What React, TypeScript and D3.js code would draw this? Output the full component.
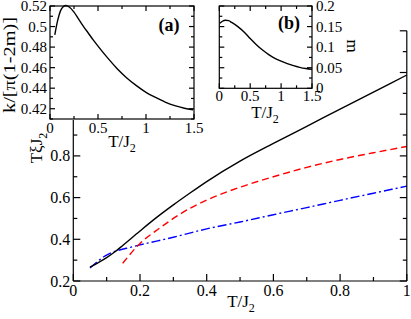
import React from 'react';
import * as d3 from 'd3';

// Main plot data (T/J2 vs TξJ2)
const blackT = [0.05, 0.075, 0.1, 0.125, 0.15, 0.2, 0.25, 0.3, 0.35, 0.4, 0.5, 0.6, 0.7, 0.8, 0.9, 1.0];
const blackV = [0.266, 0.288, 0.312, 0.34, 0.373, 0.44, 0.505, 0.565, 0.622, 0.677, 0.775, 0.86, 0.942, 1.024, 1.106, 1.188];
const redT = [0.148, 0.2, 0.26, 0.3, 0.35, 0.4, 0.5, 0.6, 0.7, 0.8, 0.9, 1.0];
const redV = [0.285, 0.38, 0.455, 0.5, 0.549, 0.588, 0.65, 0.70, 0.745, 0.783, 0.815, 0.845];
const blueT = [0.05, 0.07, 0.09, 0.11, 0.13, 0.16, 0.2, 0.3, 0.4, 0.5, 0.6, 0.7, 0.8, 0.9, 1.0];
const blueV = [0.262, 0.29, 0.315, 0.333, 0.345, 0.357, 0.373, 0.41, 0.45, 0.483, 0.518, 0.552, 0.587, 0.621, 0.655];

// Inset (a): k/[π(1-2m)] vs T/J2
const aT = [0.05, 0.08, 0.11, 0.14, 0.165, 0.2, 0.25, 0.3, 0.35, 0.4, 0.45, 0.5, 0.6, 0.7, 0.8, 0.9, 1.0, 1.1, 1.2, 1.3, 1.4, 1.49];
const aV = [0.492, 0.506, 0.5155, 0.5195, 0.5205, 0.519, 0.514, 0.507, 0.5, 0.4935, 0.487, 0.481, 0.4695, 0.459, 0.45, 0.4425, 0.436, 0.431, 0.4265, 0.423, 0.4205, 0.419];

// Inset (b): m vs T/J2
const bT = [0.01, 0.05, 0.1, 0.15, 0.2, 0.3, 0.4, 0.5, 0.6, 0.7, 0.8, 0.9, 1.0, 1.1, 1.2, 1.3, 1.4, 1.5];
const bV = [0.158, 0.163, 0.1655, 0.1645, 0.16, 0.15, 0.137, 0.121, 0.106, 0.093, 0.082, 0.073, 0.066, 0.06, 0.055, 0.051, 0.048, 0.046];

const mainXTicks = [0, 0.2, 0.4, 0.6, 0.8, 1];
const mainYTicks = [0.2, 0.4, 0.6, 0.8, 1, 1.2, 1.4];
const aXTicks = [0, 0.5, 1, 1.5];
const aYTicks = [0.42, 0.44, 0.46, 0.48, 0.5, 0.52];
const bXTicks = [0, 0.5, 1, 1.5];
const bYTicks = [0, 0.05, 0.1, 0.15, 0.2];

const FONT = '"Liberation Serif", "Times New Roman", serif';

const fmt = (v: number) => String(+v.toFixed(3));
const range = (a: number, b: number, s: number) => {
  const out: number[] = [];
  const n = Math.round((b - a) / s);
  for (let i = 0; i <= n; i++) out.push(+(a + i * s).toFixed(6));
  return out;
};
const zip = (t: number[], v: number[]) => t.map((d, i) => [d, v[i]] as [number, number]);

export default function App() {
  const W = 411, H = 319;
  // main
  const x = d3.scaleLinear().domain([0, 1]).range([73.3, 406.8]);
  const y = d3.scaleLinear().domain([0.2, 1.4]).range([281, 30.8]);
  const line = d3.line<[number, number]>().x(d => x(d[0])).y(d => y(d[1])).curve(d3.curveMonotoneX);

  // inset a
  const xa = d3.scaleLinear().domain([0, 1.5]).range([50, 194]);
  const ya = d3.scaleLinear().domain([0.41, 0.52]).range([119, 6]);
  const lineA = d3.line<[number, number]>().x(d => xa(d[0])).y(d => ya(d[1])).curve(d3.curveMonotoneX);

  // inset b
  const xb = d3.scaleLinear().domain([0, 1.5]).range([219.3, 312]);
  const yb = d3.scaleLinear().domain([0, 0.2]).range([88.3, 6]);
  const lineB = d3.line<[number, number]>().x(d => xb(d[0])).y(d => yb(d[1])).curve(d3.curveMonotoneX);

  const sw = 1.2;
  const [mx0, mx1] = x.range();
  const [my0, my1] = y.range();

  const mainXMinor = range(0, 1, 0.1);
  const mainYMinor = range(0.2, 1.4, 0.1);

  const insetTicks = (
    xs: d3.ScaleLinear<number, number>, ys: d3.ScaleLinear<number, number>,
    xMaj: number[], xMin: number[], yMaj: number[], yMin: number[]
  ) => {
    const [l, r] = xs.range();
    const [b, t] = ys.range();
    const els: JSX.Element[] = [];
    const maj = 5, min = 3;
    xMin.forEach((v, i) => {
      const len = xMaj.some(m => Math.abs(m - v) < 1e-6) ? maj : min;
      els.push(<line key={'xb' + i} x1={xs(v)} x2={xs(v)} y1={b} y2={b - len} />);
      els.push(<line key={'xt' + i} x1={xs(v)} x2={xs(v)} y1={t} y2={t + len} />);
    });
    yMin.forEach((v, i) => {
      const len = yMaj.some(m => Math.abs(m - v) < 1e-6) ? maj : min;
      els.push(<line key={'yl' + i} x1={l} x2={l + len} y1={ys(v)} y2={ys(v)} />);
      els.push(<line key={'yr' + i} x1={r} x2={r - len} y1={ys(v)} y2={ys(v)} />);
    });
    return els;
  };

  return (
    <svg width={W} height={H} style={{ position: 'absolute', left: 0, top: 0, background: '#fff' }} fontFamily={FONT}>
      <rect x={0} y={0} width={W} height={H} fill="#fff" />
      {/* main plot */}
      <g>
        <path d={line(zip(blueT, blueV)) || ''} fill="none" stroke="#0000ff" strokeWidth={1.4} strokeDasharray="9,3,2,3" />
        <path d={line(zip(redT, redV)) || ''} fill="none" stroke="#ff0000" strokeWidth={1.4} strokeDasharray="7,4" />
        <path d={line(zip(blackT, blackV)) || ''} fill="none" stroke="#000" strokeWidth={1.4} />
        <g stroke="#000" strokeWidth={sw}>
          <line x1={mx0} x2={mx1} y1={my0} y2={my0} />
          <line x1={mx0} x2={mx0} y1={my0} y2={my1} />
          <line x1={mx1} x2={mx1} y1={my0} y2={my1} />
          {mainXMinor.map((v, i) => {
            const len = mainXTicks.some(m => Math.abs(m - v) < 1e-6) ? 7 : 4;
            return <line key={'mx' + i} x1={x(v)} x2={x(v)} y1={my0} y2={my0 - len} />;
          })}
          {mainYMinor.map((v, i) => {
            const len = mainYTicks.some(m => Math.abs(m - v) < 1e-6) ? 7 : 4;
            return (
              <g key={'my' + i}>
                <line x1={mx0} x2={mx0 + len} y1={y(v)} y2={y(v)} />
                <line x1={mx1} x2={mx1 - len} y1={y(v)} y2={y(v)} />
              </g>
            );
          })}
        </g>
        <g fontSize={16} fill="#000">
          {mainXTicks.map((v, i) => (
            <text key={'mxl' + i} x={x(v)} y={296} textAnchor="middle">{fmt(v)}</text>
          ))}
          {mainYTicks.map((v, i) => (
            <text key={'myl' + i} x={mx0 - 3} y={y(v) + 5.5} textAnchor="end">{fmt(v)}</text>
          ))}
        </g>
        <text x={241} y={307} fontSize={17} textAnchor="middle">T/J<tspan fontSize={12} dy={5}>2</tspan></text>
        <text transform="translate(42,148) rotate(-90)" fontSize={17} textAnchor="middle">TξJ<tspan fontSize={12} dy={5}>2</tspan></text>
      </g>

      {/* inset a */}
      <g>
        <rect x={0} y={0} width={200} height={120} fill="#fff" />
        <path d={lineA(zip(aT, aV)) || ''} fill="none" stroke="#000" strokeWidth={1.4} />
        <g stroke="#000" strokeWidth={sw}>
          <rect x={50} y={6} width={144} height={113} fill="none" />
          {insetTicks(xa, ya, aXTicks, range(0, 1.5, 0.25), aYTicks, range(0.41, 0.52, 0.01))}
        </g>
        <g fontSize={15} fill="#000">
          {aXTicks.map((v, i) => (
            <text key={'axl' + i} x={xa(v)} y={133} textAnchor="middle">{fmt(v)}</text>
          ))}
          {aYTicks.map((v, i) => (
            <text key={'ayl' + i} x={47} y={ya(v) + 5} textAnchor="end">{fmt(v)}</text>
          ))}
        </g>
        <text x={122} y={147} fontSize={17} textAnchor="middle">T/J<tspan fontSize={12} dy={5}>2</tspan></text>
        <text transform="translate(15,65) rotate(-90)" fontSize={16} textAnchor="middle" textLength={96} lengthAdjust="spacingAndGlyphs">k/[π(1-2m)]</text>
        <text x={169} y={31} fontSize={18} fontWeight="bold" textAnchor="middle">(a)</text>
      </g>

      {/* inset b */}
      <g>
        <rect x={219.3} y={6} width={92.7} height={82.3} fill="#fff" />
        <path d={lineB(zip(bT, bV)) || ''} fill="none" stroke="#000" strokeWidth={1.4} />
        <g stroke="#000" strokeWidth={sw}>
          <rect x={219.3} y={6} width={92.7} height={82.3} fill="none" />
          {insetTicks(xb, yb, bXTicks, range(0, 1.5, 0.25), bYTicks, range(0, 0.2, 0.025))}
        </g>
        <g fontSize={15} fill="#000">
          {bXTicks.map((v, i) => (
            <text key={'bxl' + i} x={xb(v)} y={101} textAnchor="middle">{fmt(v)}</text>
          ))}
          {bYTicks.map((v, i) => (
            <text key={'byl' + i} x={316} y={yb(v) + 5} textAnchor="start">{fmt(v)}</text>
          ))}
        </g>
        <text x={265} y={118} fontSize={17} textAnchor="middle">T/J<tspan fontSize={12} dy={5}>2</tspan></text>
        <text transform="translate(347,46) rotate(90)" fontSize={17} textAnchor="middle">m</text>
        <text x={289} y={29} fontSize={18} fontWeight="bold" textAnchor="middle">(b)</text>
      </g>
    </svg>
  );
}
